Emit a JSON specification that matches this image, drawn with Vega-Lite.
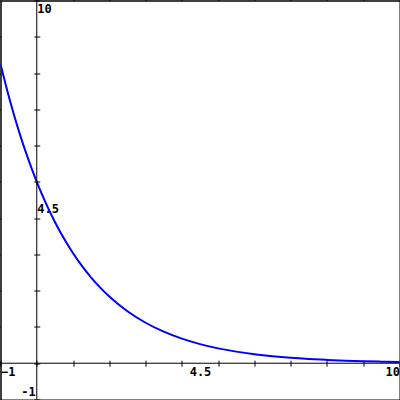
{
  "$schema": "https://vega.github.io/schema/vega-lite/v6.json",
  "width": 399,
  "height": 399,
  "padding": 0.5,
  "autosize": {"type": "none"},
  "background": "white",
  "config": {
    "view": {"stroke": "black", "strokeWidth": 1},
    "axis": {"grid": false, "title": null, "domainColor": "black", "tickColor": "black", "labelColor": "black", "labelFont": "DejaVu Sans Mono", "labelFontWeight": "bold", "labelFontSize": 12}
  },
  "datasets": {
    "curve": [
      {"x": -1, "y": 8.244}, {"x": -0.75, "y": 7.275}, {"x": -0.5, "y": 6.42}, {"x": -0.25, "y": 5.666},
      {"x": 0, "y": 5.0}, {"x": 0.25, "y": 4.412}, {"x": 0.5, "y": 3.894}, {"x": 0.75, "y": 3.436},
      {"x": 1, "y": 3.033}, {"x": 1.25, "y": 2.676}, {"x": 1.5, "y": 2.362}, {"x": 1.75, "y": 2.084},
      {"x": 2, "y": 1.839}, {"x": 2.5, "y": 1.433}, {"x": 3, "y": 1.116}, {"x": 3.5, "y": 0.869},
      {"x": 4, "y": 0.677}, {"x": 4.5, "y": 0.527}, {"x": 5, "y": 0.41}, {"x": 5.5, "y": 0.32},
      {"x": 6, "y": 0.249}, {"x": 6.5, "y": 0.194}, {"x": 7, "y": 0.151}, {"x": 7.5, "y": 0.118},
      {"x": 8, "y": 0.092}, {"x": 8.5, "y": 0.071}, {"x": 9, "y": 0.056}, {"x": 9.5, "y": 0.043},
      {"x": 10, "y": 0.034}
    ],
    "vaxis": [{"x": 0}],
    "haxis": [{"y": 0}],
    "neg": [{"x": 0, "y": -1, "t": "-1"}]
  },
  "layer": [
    {
      "data": {"name": "curve"},
      "mark": {"type": "line", "color": "#0000ff", "strokeWidth": 2, "interpolate": "monotone", "clip": true},
      "encoding": {
        "x": {"field": "x", "type": "quantitative", "scale": {"domain": [-1, 10], "nice": false, "zero": false},
          "axis": {"orient": "bottom", "offset": -39.3, "domain": false, "labels": false, "tickSize": 6, "values": [-1,0,1,2,3,4,5,6,7,8,9,10]}},
        "y": {"field": "y", "type": "quantitative", "scale": {"domain": [-1, 10], "nice": false, "zero": false},
          "axis": {"orient": "left", "offset": -39.3, "domain": false, "labels": false, "tickSize": 6, "values": [-1,0,1,2,3,4,5,6,7,8,9,10]}}
      }
    },
    {
      "data": {"name": "vaxis"},
      "mark": {"type": "rule", "color": "black", "strokeWidth": 1},
      "encoding": {
        "x": {"field": "x", "type": "quantitative",
          "axis": {"orient": "bottom", "offset": -36.3, "domain": false, "ticks": false, "labelFlush": true, "labelPadding": 3, "labelBaseline": "top", "values": [-1, 4.5, 10], "format": ".1~f"}}
      }
    },
    {
      "data": {"name": "haxis"},
      "mark": {"type": "rule", "color": "black", "strokeWidth": 1},
      "encoding": {
        "y": {"field": "y", "type": "quantitative",
          "axis": {"orient": "right", "offset": -362.7, "domain": false, "ticks": false, "labelPadding": 0, "labelAlign": "left", "labelBaseline": "top", "labelOffset": 3, "values": [4.5, 10], "format": ".1~f"}}
      }
    },
    {
      "data": {"name": "neg"},
      "mark": {"type": "text", "font": "DejaVu Sans Mono", "fontWeight": "bold", "fontSize": 12, "align": "right", "baseline": "bottom", "dx": -1, "dy": -1, "color": "black"},
      "encoding": {
        "x": {"field": "x", "type": "quantitative"},
        "y": {"field": "y", "type": "quantitative"},
        "text": {"field": "t"}
      }
    }
  ],
  "resolve": {"axis": {"x": "independent", "y": "independent"}}
}
